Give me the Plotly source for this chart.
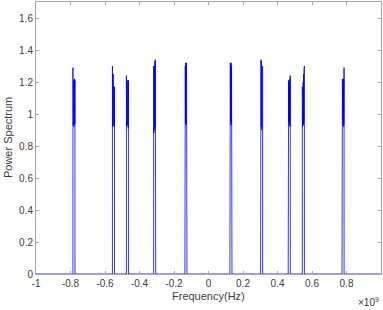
import plotly.graph_objects as go

# Peak centre frequencies (units of 1e9 Hz)
peak_centers = [-0.780, -0.551, -0.470, -0.312, -0.131, 0.130, 0.308, 0.468, 0.550, 0.780]
# frequency offsets of the spectrum samples inside each peak (units of 1e9 Hz)
peak_offsets = [-0.0060, -0.0058, -0.0048, -0.0036, -0.0024, -0.0012, 0.0, 0.0012, 0.0024, 0.0036, 0.0048, 0.0058, 0.0060]
# power values of each peak at those offsets
peak_values = [
    [0, 1.29, 0.93, 1.22, 0.95, 1.21, 0.92, 1.20, 0.96, 1.22, 0.94, 1.21, 0],
    [0, 1.30, 0.92, 1.28, 0.95, 1.25, 0.93, 1.20, 0.95, 1.17, 0.92, 1.17, 0],
    [0, 1.24, 0.92, 1.22, 0.94, 1.21, 0.93, 1.20, 0.95, 1.21, 0.91, 1.21, 0],
    [0, 1.30, 0.88, 1.29, 0.92, 1.30, 0.90, 1.33, 0.92, 1.34, 0.88, 1.30, 0],
    [0, 1.27, 0.92, 1.30, 0.94, 1.32, 0.93, 1.31, 0.95, 1.32, 0.92, 1.30, 0],
    [0, 1.30, 0.92, 1.32, 0.95, 1.31, 0.93, 1.32, 0.94, 1.30, 0.92, 1.27, 0],
    [0, 1.30, 0.88, 1.34, 0.92, 1.33, 0.90, 1.30, 0.92, 1.29, 0.88, 1.30, 0],
    [0, 1.21, 0.91, 1.21, 0.95, 1.20, 0.93, 1.21, 0.94, 1.22, 0.92, 1.24, 0],
    [0, 1.17, 0.92, 1.17, 0.95, 1.20, 0.93, 1.25, 0.95, 1.28, 0.92, 1.30, 0],
    [0, 1.21, 0.94, 1.22, 0.96, 1.20, 0.92, 1.21, 0.95, 1.22, 0.93, 1.29, 0],
]
x_range = [-1.0, 1.0]
x_ticks = [-1, -0.8, -0.6, -0.4, -0.2, 0, 0.2, 0.4, 0.6, 0.8, 1]
x_ticktext = ["-1", "-0.8", "-0.6", "-0.4", "-0.2", "0", "0.2", "0.4", "0.6", "0.8", "1"]
y_ticks = [0, 0.2, 0.4, 0.6, 0.8, 1, 1.2, 1.4, 1.6]
y_ticktext = ["0", "0.2", "0.4", "0.6", "0.8", "1", "1.2", "1.4", "1.6"]

# assemble the spectrum: zero baseline between peaks
freq = [x_range[0]]
power = [0.0]
for c, vals in zip(peak_centers, peak_values):
    for off, v in zip(peak_offsets, vals):
        freq.append(c + off)
        power.append(v)
freq.append(x_range[1])
power.append(0.0)

FONT = "Liberation Sans, Arial, Helvetica"
TXT = "#404040"

fig = go.Figure()
fig.add_trace(go.Scatter(x=freq, y=power, mode="lines",
                         line=dict(color="rgb(0,0,255)", width=0.8),
                         showlegend=False, hoverinfo="skip"))

axis_common = dict(showline=True, linecolor="#a6a6a6", linewidth=1, mirror="ticks",
                   ticks="inside", ticklen=3, tickcolor="#a6a6a6", showgrid=False,
                   zeroline=False, automargin=False,
                   tickfont=dict(family=FONT, size=10, color=TXT))

fig.update_layout(
    width=383, height=310,
    margin=dict(l=36, r=2, t=2, b=36),
    plot_bgcolor="white", paper_bgcolor="white",
    xaxis=dict(range=x_range, tickvals=x_ticks, ticktext=x_ticktext, **axis_common),
    yaxis=dict(range=[0, 1.7], tickvals=y_ticks, ticktext=y_ticktext, **axis_common),
    annotations=[
        dict(text="Frequency(Hz)", xref="paper", yref="paper", x=0.5, y=-0.082,
             xanchor="center", yanchor="middle", showarrow=False,
             font=dict(family=FONT, size=11, color=TXT)),
        dict(text="Power Spectrum", xref="paper", yref="paper", x=-0.081, y=0.5,
             xanchor="center", yanchor="middle", textangle=-90, showarrow=False,
             font=dict(family=FONT, size=11, color=TXT)),
        dict(text="×10<sup>9</sup>", xref="paper", yref="paper", x=1.0, y=-0.104,
             xanchor="right", yanchor="middle", showarrow=False,
             font=dict(family=FONT, size=10, color=TXT)),
    ],
)

fig.write_html("out.html", config={"displayModeBar": False},
               post_script="document.body.style.margin='0';document.body.style.overflow='hidden';")
